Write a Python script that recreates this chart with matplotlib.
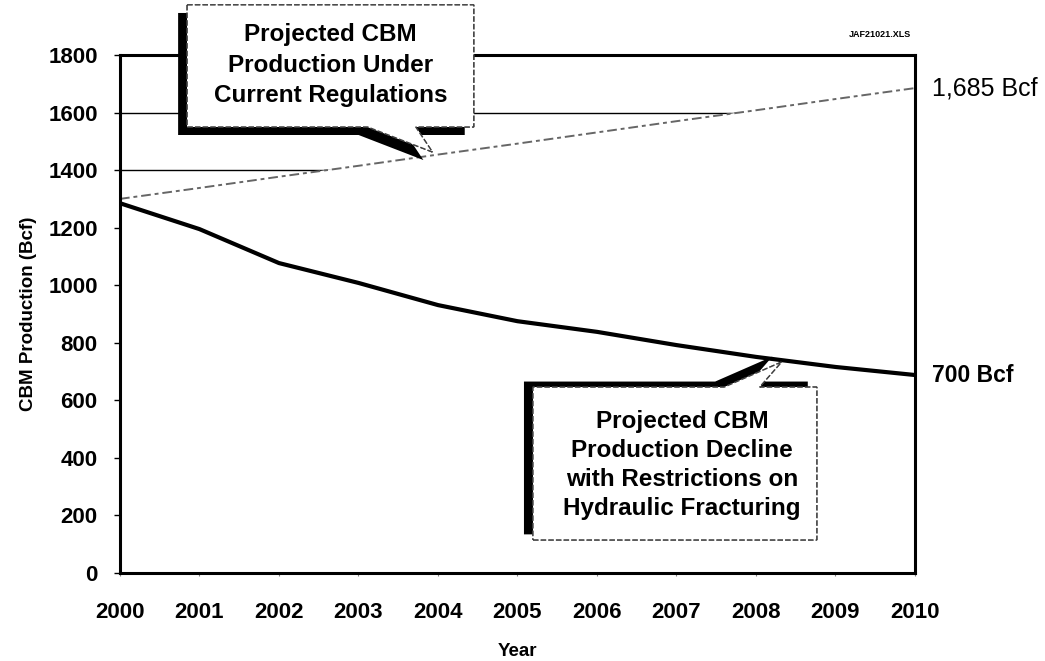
import numpy as np
import matplotlib
matplotlib.use("Agg")
import matplotlib.pyplot as plt
from matplotlib.patches import Polygon
import matplotlib.patheffects as pe

plt.rcParams['font.family'] = ['Liberation Sans', 'DejaVu Sans']

# Data
years = [2000, 2001, 2002, 2003, 2004, 2005, 2006, 2007, 2008, 2009, 2010]
current_regs = [1300, 1338, 1377, 1415, 1454, 1492, 1531, 1570, 1608, 1647, 1685]
restricted = [1285, 1195, 1077, 1008, 931, 875, 838, 792, 751, 716, 688]
yticks = [0, 200, 400, 600, 800, 1000, 1200, 1400, 1600, 1800]

upper_text = "Projected CBM\nProduction Under\nCurrent Regulations"
lower_text = "Projected CBM\nProduction Decline\nwith Restrictions on\nHydraulic Fracturing"

fig = plt.figure(figsize=(10.45, 6.61), dpi=100)
ax = fig.add_axes([0.1148, 0.1331, 0.7608, 0.7837])

ax.set_xlim(2000, 2010)
ax.set_ylim(0, 1800)
ax.set_xticks(years)
ax.set_yticks(yticks)

# gridlines only show above the upper series (area under it is white)
ax.set_axisbelow(True)
ax.yaxis.grid(True, color='black', linewidth=1.0)
ax.fill_between(years, 0, current_regs, color='white', zorder=1)

ax.plot(years, current_regs, color='0.4', linewidth=1.4,
        linestyle=(0, (5, 2, 2, 2)), zorder=2)
ax.plot(years, restricted, color='black', linewidth=3.0, zorder=3,
        solid_capstyle='butt')

for s in ax.spines.values():
    s.set_linewidth(2.2)
    s.set_color('black')

ax.tick_params(axis='y', length=4, width=1, pad=12, labelsize=16)
ax.tick_params(axis='x', length=2, width=0.8, color='0.5', pad=19, labelsize=16)
for lab in ax.get_xticklabels() + ax.get_yticklabels():
    lab.set_fontweight('bold')

ax.set_ylabel('CBM Production (Bcf)', fontsize=13.5, fontweight='bold')
ax.yaxis.set_label_coords(-0.104, 0.5)
ax.set_xlabel('Year', fontsize=13.5, fontweight='bold')
ax.xaxis.set_label_coords(0.5, -0.135)

# end labels
ax.annotate('1,685 Bcf', xy=(years[-1], current_regs[-1]), xytext=(12, 0),
            textcoords='offset points', va='center', ha='left', fontsize=18,
            annotation_clip=False)
ax.annotate('700 Bcf', xy=(years[-1], restricted[-1]), xytext=(12, 0),
            textcoords='offset points', va='center', ha='left', fontsize=16.5,
            fontweight='bold', annotation_clip=False)

ax.text(0.995, 1.039, 'JAF21021.XLS', transform=ax.transAxes, ha='right',
        va='center', fontsize=6.5, fontweight='bold')

# callouts with black drop shadow
def callout(verts, shadow_offset):
    p = Polygon(verts, closed=True, facecolor='white', edgecolor='0.25',
                linewidth=1.0, linestyle=(0, (4, 1.5)), zorder=6, clip_on=False)
    p.set_path_effects([pe.withSimplePatchShadow(offset=shadow_offset,
                                                 shadow_rgbFace='black',
                                                 alpha=1.0),
                        pe.Normal()])
    ax.add_patch(p)

up_l, up_r, up_t, up_b = 2000.845, 2004.45, 1974, 1550
callout([(up_l, up_t), (up_r, up_t), (up_r, up_b), (2003.72, up_b),
         (2003.93, 1463), (2003.115, up_b), (up_l, up_b)], (-6.5, -5.8))
ax.text(2002.65, 1765, upper_text, ha='center', va='center', fontsize=17.5,
        fontweight='bold', linespacing=1.4, zorder=7, clip_on=False)

lo_l, lo_r, lo_t, lo_b = 2005.195, 2008.765, 646, 115
callout([(lo_l, lo_b), (lo_r, lo_b), (lo_r, lo_t), (2008.045, lo_t),
         (2008.32, 733), (2007.60, lo_t), (lo_l, lo_t)], (-6.5, 4.0))
ax.text(2007.07, 375, lower_text, ha='center', va='center', fontsize=17.5,
        fontweight='bold', linespacing=1.33, zorder=7)

fig.savefig('out.png', dpi=100)
